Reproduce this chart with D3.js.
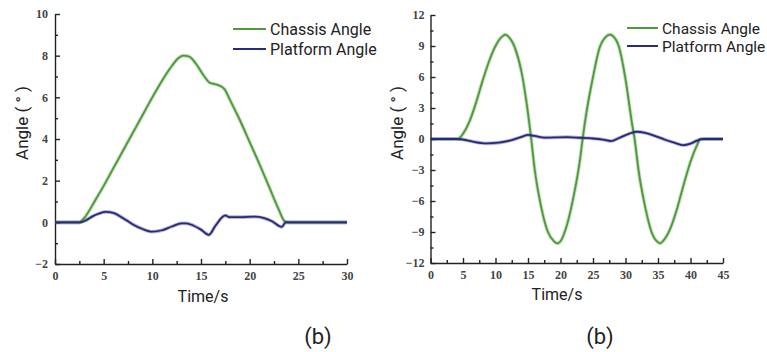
<!DOCTYPE html>
<html>
<head>
<meta charset="utf-8">
<script src="https://cdn.jsdelivr.net/npm/d3@7"></script>
<style>
  body { margin: 0; background: #fff; }
  svg { display: block; }
  .tick text { font-family: "Liberation Serif", "DejaVu Serif", serif; font-size: 12px; fill: #444; font-weight: bold; }
  .lbl { font-family: Roboto, "Noto Sans", sans-serif; fill: #222; }
</style>
</head>
<body>
<svg id="chart" width="767" height="352"></svg>
<script>
// left panel (b) - ramp manoeuvre
const leftTime     = [0, 2.5, 3, 3.5, 4, 5, 6, 7, 8, 9, 10, 11, 12, 12.6, 13.2, 13.8, 14.5, 15.2, 15.9, 16.7, 17.4, 18, 19, 20, 21, 22, 23, 23.6, 24, 30]
const leftChassis  = [0, 0, 0.2, 0.55, 0.95, 1.75, 2.6, 3.45, 4.3, 5.15, 6.0, 6.8, 7.5, 7.85, 8.0, 7.95, 7.6, 7.1, 6.7, 6.6, 6.4, 5.85, 4.9, 3.85, 2.8, 1.7, 0.6, 0.05, 0, 0]
const leftPlatTime = [0, 2.6, 3.2, 3.9, 4.5, 5.2, 6, 7, 8, 9, 10, 11, 12, 13, 13.5, 14.2, 15, 15.8, 16.5, 17.5, 17.9, 19, 20.5, 21.5, 22.3, 23.3, 23.7, 30]
const leftPlatform = [0, 0, 0.1, 0.3, 0.42, 0.5, 0.45, 0.2, -0.1, -0.32, -0.45, -0.38, -0.2, -0.05, -0.05, -0.15, -0.35, -0.6, -0.15, 0.33, 0.25, 0.25, 0.27, 0.2, 0.05, -0.22, 0, 0]

// right panel (b) - double sine manoeuvre
const rightTime     = [0, 4, 4.2, 5, 6, 7, 8, 9, 10, 11, 11.5, 12, 13, 14, 15, 15.5, 16, 17, 18, 19, 19.5, 20, 21, 22, 23, 23.4, 24, 25, 26, 27, 27.6, 28, 29, 30, 31, 31.4, 32, 33, 34, 35, 35.3, 36, 37, 38, 39, 40, 41, 41.5, 42, 45]
const rightChassis  = [0, 0, 0, 0.5, 1.7, 3.5, 5.6, 7.5, 9.0, 9.9, 10.1, 9.9, 8.8, 6.5, 2.5, 0, -2.8, -6.5, -8.9, -9.9, -10.1, -9.9, -8.3, -5.6, -2.0, 0, 2.6, 6.0, 8.8, 9.9, 10.1, 10.0, 8.9, 5.8, 1.5, 0, -3.0, -6.5, -9.0, -10.0, -10.1, -9.7, -8.5, -6.6, -4.3, -2.2, -0.6, 0, 0, 0]
const rightPlatTime = [0, 4, 5, 6.5, 8.6, 10.5, 12.5, 14, 15, 16, 17.5, 19, 21, 23, 25, 26.5, 27.8, 29, 30.5, 31.7, 33, 34.5, 36, 37.5, 38.9, 40, 41, 42, 45]
const rightPlatform = [0, 0, -0.05, -0.25, -0.43, -0.35, -0.1, 0.2, 0.39, 0.3, 0.13, 0.15, 0.18, 0.12, 0.05, -0.05, -0.2, 0.1, 0.5, 0.7, 0.6, 0.3, -0.05, -0.35, -0.6, -0.45, -0.15, 0, 0]

const seriesNames = ["Chassis Angle", "Platform Angle"]
const seriesColors = ["#4c9a38", "#27297a"]

const leftXTicks = [0, 5, 10, 15, 20, 25, 30]
const leftXMinor = [2.5, 7.5, 12.5, 17.5, 22.5, 27.5]
const leftYTicks = [-2, 0, 2, 4, 6, 8, 10]
const leftYMinor = [-1, 1, 3, 5, 7, 9]
const rightXTicks = [0, 5, 10, 15, 20, 25, 30, 35, 40, 45]
const rightXMinor = [2.5, 7.5, 12.5, 17.5, 22.5, 27.5, 32.5, 37.5, 42.5]
const rightYTicks = [-12, -9, -6, -3, 0, 3, 6, 9, 12]
const rightYMinor = [-10.5, -7.5, -4.5, -1.5, 1.5, 4.5, 7.5, 10.5]

const svg = d3.select("#chart")

function drawPanel(p) {
  const x = d3.scaleLinear().domain(p.xDomain).range(p.xRange)
  const y = d3.scaleLinear().domain(p.yDomain).range(p.yRange)
  const g = svg.append("g")

  // minor ticks
  g.append("g").attr("transform", `translate(0,${p.yRange[0]})`)
    .call(d3.axisBottom(x).tickValues(p.xMinor).tickSize(-3).tickFormat(""))
    .call(a => a.select(".domain").remove())
  g.append("g").attr("transform", `translate(${p.xRange[0]},0)`)
    .call(d3.axisLeft(y).tickValues(p.yMinor).tickSize(-3).tickFormat(""))
    .call(a => a.select(".domain").remove())

  // main axes
  g.append("g").attr("transform", `translate(0,${p.yRange[0]})`)
    .call(d3.axisBottom(x).tickValues(p.xTicks).tickSize(-5).tickSizeOuter(0).tickPadding(7))
  g.append("g").attr("transform", `translate(${p.xRange[0]},0)`)
    .call(d3.axisLeft(y).tickValues(p.yTicks).tickSize(-5).tickSizeOuter(0).tickPadding(p.yPad))
  g.selectAll(".domain, .tick line").attr("stroke", "#222").attr("stroke-width", 1.4)

  const line = d3.line().x(d => x(d[0])).y(d => y(d[1])).curve(d3.curveMonotoneX)

  p.series.forEach((s, i) => {
    const pts = d3.zip(s.t, s.v)
    g.append("path").datum(pts)
      .attr("fill", "none").attr("stroke", seriesColors[i])
      .attr("stroke-opacity", 0.35).attr("stroke-width", 3.6)
      .attr("d", line)
    g.append("path").datum(pts)
      .attr("fill", "none").attr("stroke", seriesColors[i])
      .attr("stroke-width", 1.8).attr("stroke-linejoin", "round")
      .attr("d", line)
  })

  // legend
  seriesNames.forEach((n, i) => {
    const ly = p.legY + i * p.legGap
    g.append("line").attr("x1", p.legX).attr("x2", p.legX + p.legLen)
      .attr("y1", ly).attr("y2", ly)
      .attr("stroke", seriesColors[i]).attr("stroke-width", 2)
    g.append("text").attr("class", "lbl").attr("x", p.legX + p.legLen + 4).attr("y", ly)
      .attr("dy", "0.36em").attr("font-size", p.legFont).text(n)
  })

  g.append("text").attr("class", "lbl").attr("font-size", 17)
    .attr("text-anchor", "middle")
    .attr("transform", `translate(${p.yLabelX},${p.yLabelY}) rotate(-90)`)
    .attr("dy", "0.36em").text("Angle ( ° )")
  g.append("text").attr("class", "lbl").attr("font-size", 16)
    .attr("text-anchor", "middle").attr("x", p.xLabelX).attr("y", p.xLabelY)
    .text("Time/s")
  g.append("text").attr("class", "lbl").attr("font-size", 22)
    .attr("text-anchor", "middle").attr("x", p.tagX).attr("y", 344)
    .text("(b)")
}

drawPanel({
  xDomain: [0, 30], xRange: [55, 347],
  yDomain: [-2, 10], yRange: [264, 14],
  xTicks: leftXTicks, xMinor: leftXMinor, yTicks: leftYTicks, yMinor: leftYMinor,
  yPad: 7,
  series: [{ t: leftTime, v: leftChassis }, { t: leftPlatTime, v: leftPlatform }],
  legX: 233, legY: 29, legGap: 20, legLen: 33, legFont: 16,
  yLabelX: 22, yLabelY: 123, xLabelX: 203, xLabelY: 302, tagX: 318
})

drawPanel({
  xDomain: [0, 45], xRange: [430.5, 723],
  yDomain: [-12, 12], yRange: [263, 15],
  xTicks: rightXTicks, xMinor: rightXMinor, yTicks: rightYTicks, yMinor: rightYMinor,
  yPad: 6,
  series: [{ t: rightTime, v: rightChassis }, { t: rightPlatTime, v: rightPlatform }],
  legX: 627, legY: 28, legGap: 18, legLen: 31, legFont: 15.5,
  yLabelX: 397, yLabelY: 123, xLabelX: 557, xLabelY: 300, tagX: 600
})
</script>
</body>
</html>
